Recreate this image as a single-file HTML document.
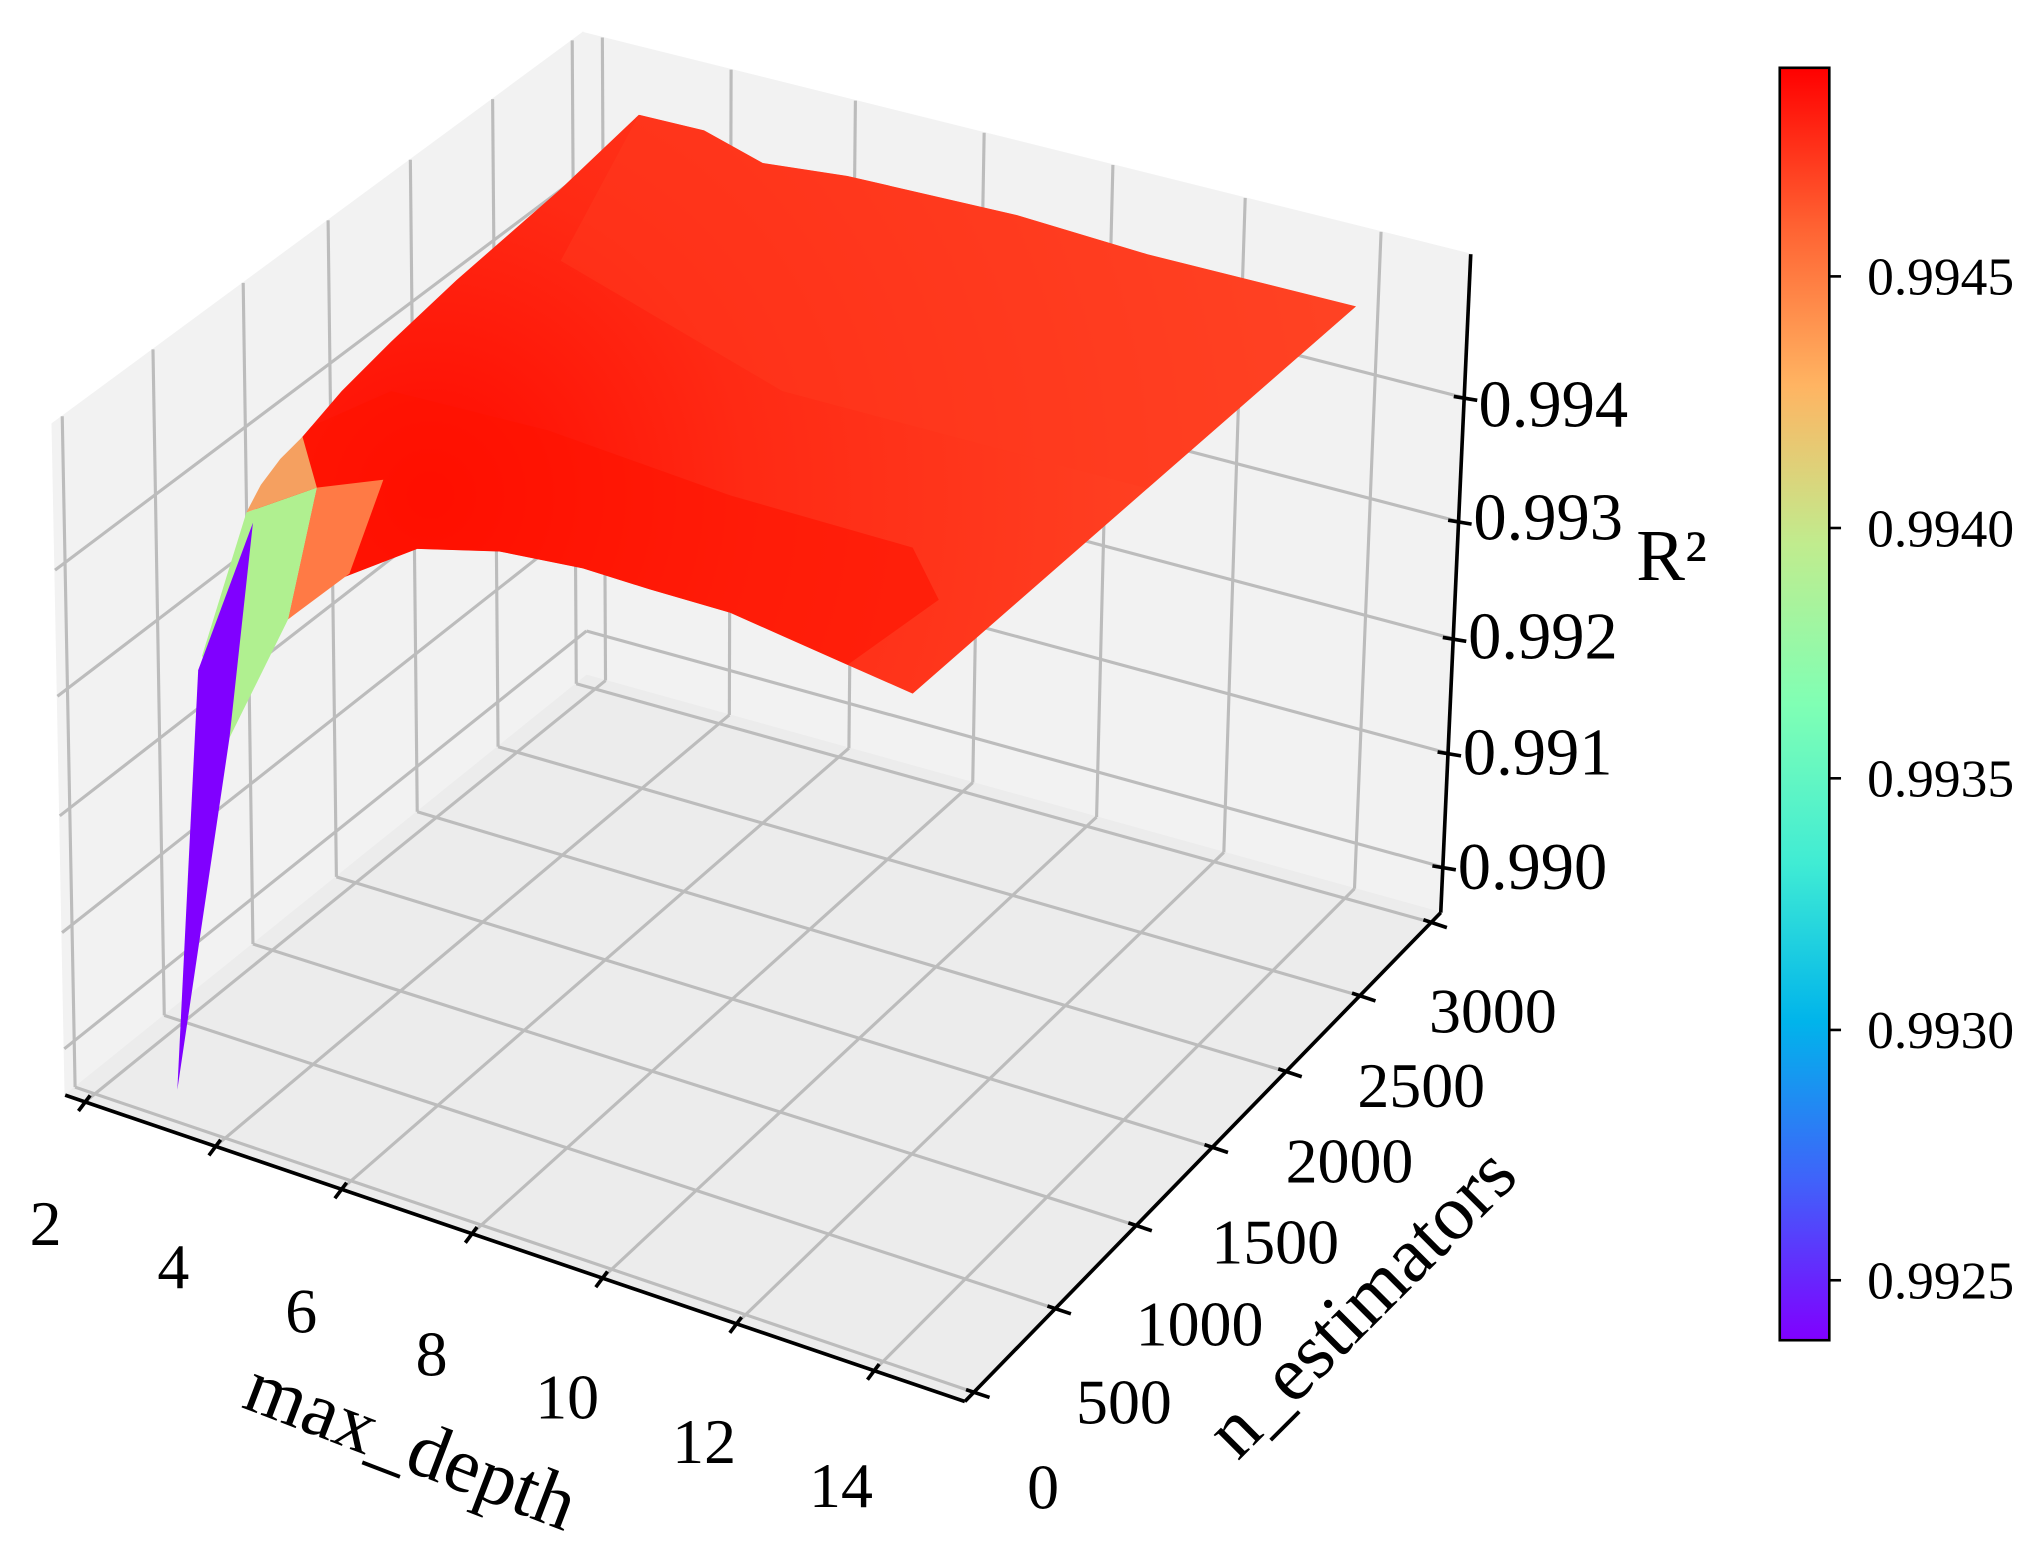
<!DOCTYPE html>
<html><head><meta charset="utf-8">
<style>
html,body{margin:0;padding:0;background:#fff;}
svg{display:block;}
text{font-family:"Liberation Serif","DejaVu Serif",serif;fill:#000;}
</style></head>
<body>
<svg id="s" xmlns="http://www.w3.org/2000/svg" width="2034" height="1541" viewBox="0 0 1560 1182" preserveAspectRatio="none">
<defs>
<linearGradient id="cb" x1="0" y1="1" x2="0" y2="0">
<stop offset="0" stop-color="#8000ff"/>
<stop offset="0.125" stop-color="#4062fa"/>
<stop offset="0.25" stop-color="#00b4eb"/>
<stop offset="0.375" stop-color="#40ecd4"/>
<stop offset="0.5" stop-color="#80ffb4"/>
<stop offset="0.625" stop-color="#c0ec8e"/>
<stop offset="0.75" stop-color="#ffb462"/>
<stop offset="0.875" stop-color="#ff6232"/>
<stop offset="1" stop-color="#ff0000"/>
</linearGradient>
<radialGradient id="sg" gradientUnits="userSpaceOnUse" cx="330" cy="380" r="700">
<stop offset="0" stop-color="#ff0a00"/>
<stop offset="0.35" stop-color="#ff2a14"/>
<stop offset="1" stop-color="#ff4a28"/>
</radialGradient>
<clipPath id="sc"><polygon points="195,393 210,362 232,335 262,300 300,262 350,215 430,145 490,88 540,100 585,125 650,135 780,165 880,195 1040,235 700,532 650,510 560,470 498,452 447,436 383,423 320,421 258,445 221,475 243,374"/></clipPath>
</defs>
<g id="g"></g>
</svg>
<script>
var NS="http://www.w3.org/2000/svg",g=document.getElementById('g');
function el(t,a,txt,par){var e=document.createElementNS(NS,t);for(var k in a)e.setAttribute(k,a[k]);if(txt!==undefined&&txt!==null)e.textContent=txt;(par||g).appendChild(e);return e;}
var B00=[50,840],B10=[740,1075],B11=[1105,700],B01=[450,518];
var T00=[40,325],T10=[760,565],T11=[1128,195],T01=[447,25];
function bl(a,b,c,d,u,v){return [a[0]*(1-u)*(1-v)+b[0]*u*(1-v)+c[0]*u*v+d[0]*(1-u)*v, a[1]*(1-u)*(1-v)+b[1]*u*(1-v)+c[1]*u*v+d[1]*(1-u)*v];}
function P(u,v,w){var b=bl(B00,B10,B11,B01,u,v),t=bl(T00,T10,T11,T01,u,v);return [b[0]*(1-w)+t[0]*w,b[1]*(1-w)+t[1]*w];}
function pts(a){return a.map(function(p){return p[0].toFixed(1)+','+p[1].toFixed(1)}).join(' ');}
el('polygon',{points:pts([P(0,0,0),P(0,1,0),P(0,1,1),P(0,0,1)]),fill:'#f2f2f2',stroke:'#f2f2f2'});
el('polygon',{points:pts([P(0,1,0),P(1,1,0),P(1,1,1),P(0,1,1)]),fill:'#f2f2f2',stroke:'#f2f2f2'});
el('polygon',{points:pts([P(0,0,0),P(1,0,0),P(1,1,0),P(0,1,0)]),fill:'#ececec',stroke:'#ececec'});
var U=[0.022,0.167,0.307,0.452,0.597,0.746,0.899];
var V=[0.019,0.19,0.36,0.52,0.675,0.83,0.98];
var W=[0.069,0.242,0.416,0.594,0.782];
function ln(a,b,c,w,par){el('line',{x1:a[0],y1:a[1],x2:b[0],y2:b[1],stroke:c,'stroke-width':w},null,par);}
var gc='#bcbcbc',gw=2.4;
U.forEach(function(u){ln(P(u,0,0),P(u,1,0),gc,gw);ln(P(u,1,0),P(u,1,1),gc,gw);});
V.forEach(function(v){ln(P(0,v,0),P(1,v,0),gc,gw);ln(P(0,v,0),P(0,v,1),gc,gw);});
W.forEach(function(w){ln(P(0,0,w),P(0,1,w),gc,gw);ln(P(0,1,w),P(1,1,w),gc,gw);});
ln(P(0,0,0),P(1,0,0),'#000',2.8);
ln(P(1,0,0),P(1,1,0),'#000',2.8);
ln(P(1,1,0),P(1,1,1),'#000',2.8);
U.forEach(function(u){var p=P(u,0,0);ln([p[0]-5,p[1]+7],[p[0]+4,p[1]-5],'#000',2.8);});
V.forEach(function(v){var p=P(1,v,0);ln([p[0]-6,p[1]-2],[p[0]+12,p[1]+4],'#000',2.8);});
W.forEach(function(w){var p=P(1,1,w);ln([p[0]-8,p[1]-1],[p[0]+10,p[1]+2],'#000',2.8);});
// surface (clipped)
var sg=el('g',{'clip-path':'url(#sc)'});
el('rect',{x:0,y:0,width:1200,height:700,fill:'url(#sg)'},null,sg);
el('polygon',{fill:'#ff3a1e',opacity:'0.5',points:'490,88 540,100 585,125 650,135 780,165 880,195 1040,235 900,380 600,300 430,200'},null,sg);
el('polygon',{fill:'#ff1200',opacity:'0.6',points:'232,330 300,300 420,330 560,380 700,420 720,460 650,510 560,470 498,452 447,436 383,423 320,421 258,445 243,374 210,360'},null,sg);
el('polygon',{fill:'#ff7a45',points:'243,374 294,368 268,440 221,475'});
el('polygon',{fill:'#b0f090',points:'155,503 189,393 243,374 221,475 176,566'});
el('polygon',{fill:'#f5a060',points:'189,393 200,372 215,352 232,335 243,374'});
el('polygon',{fill:'#8000ff',points:'136,836 152,514 194,401 176,566'});
var fs=49;
[['2',35,955],['4',133,988],['6',231,1022],['8',331,1055],['10',435,1088],['12',540,1122],['14',645,1156]].forEach(function(t){el('text',{x:t[1],y:t[2],'font-size':fs,'text-anchor':'middle'},t[0]);});
[['0',800,1157],['500',862,1092],['1000',920,1032],['1500',978,969],['2000',1035,907],['2500',1090,849],['3000',1145,792]].forEach(function(t){el('text',{x:t[1],y:t[2],'font-size':fs,'text-anchor':'middle'},t[0]);});
[['0.994',327],['0.993',414],['0.992',505],['0.991',594],['0.990',682]].forEach(function(t,i){el('text',{x:1134-i*4,y:t[1],'font-size':51},t[0]);});
el('text',{x:1255,y:445,'font-size':56},'R²');
el('text',{x:315,y:1128,'font-size':60,'text-anchor':'middle',transform:'rotate(21 315 1110)'},'max_depth');
el('text',{x:1045,y:1018,'font-size':60,'text-anchor':'middle',transform:'rotate(-45 1045 1000)'},'n_estimators');
el('rect',{x:1365,y:52,width:38,height:976,fill:'url(#cb)',stroke:'#000','stroke-width':2});
[['0.9945',212],['0.9940',405],['0.9935',597],['0.9930',790],['0.9925',982]].forEach(function(t){ln([1403,t[1]],[1412,t[1]],'#000',2);el('text',{x:1432,y:t[1]+14,'font-size':41},t[0]);});
</script>
</body></html>
